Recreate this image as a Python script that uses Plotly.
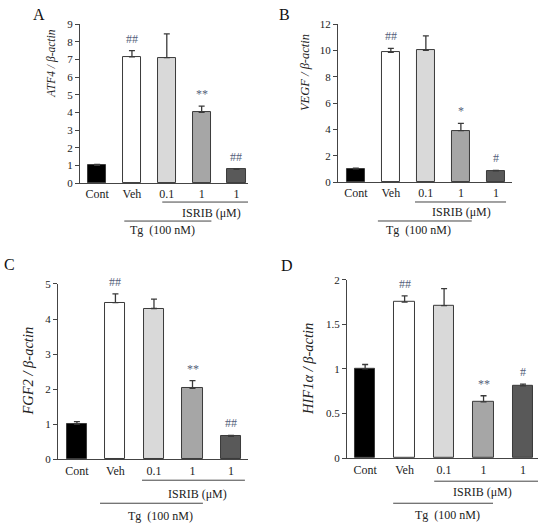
import plotly.graph_objects as go

# ----------------------------------------------------
# Data
# ----------------------------------------------------

groups = ["Cont", "Veh", "0.1", "1", "1"]
bar_colors = ["#000000", "#ffffff", "#d9d9d9", "#a6a6a6", "#595959"]

atf4_mean = [1.0, 7.15, 7.1, 4.0, 0.78]
atf4_err = [0.05, 0.35, 1.35, 0.35, 0.03]
atf4_sig = ["", "##", "", "**", "##"]

vegf_mean = [1.0, 9.85, 10.0, 3.9, 0.85]
vegf_err = [0.05, 0.3, 1.1, 0.55, 0.03]
vegf_sig = ["", "##", "", "*", "#"]

fgf2_mean = [1.0, 4.47, 4.3, 2.02, 0.65]
fgf2_err = [0.07, 0.25, 0.27, 0.22, 0.03]
fgf2_sig = ["", "##", "", "**", "##"]

hif1a_mean = [1.0, 1.75, 1.71, 0.63, 0.81]
hif1a_err = [0.05, 0.07, 0.19, 0.07, 0.02]
hif1a_sig = ["", "##", "", "**", "#"]

FONT = "Liberation Serif"
TXT = "#222222"

panels = [
    dict(letter="A", title="<i>ATF4 / β-actin</i>", mean=atf4_mean, err=atf4_err, sig=atf4_sig,
         yrange=[0, 9], dtick=1, xdom=[0.1455, 0.4509], ydom=[0.650, 0.954], xrange=[-0.49, 4.33],
         letter_xy=(0.071, 0.973), hpx=159, title_pos=(52 / 550, 0.75, 11.5),
         isrib=(1.87, 4.46, 3.28), tg=(0.78, 3.28, 1.87), vpx=(19, 30, 38, 47)),
    dict(letter="B", title="<i>VEGF / β-actin</i>", mean=vegf_mean, err=vegf_err, sig=vegf_sig,
         yrange=[0, 12], dtick=2, xdom=[0.6145, 0.9309], ydom=[0.652, 0.954], xrange=[-0.51, 4.46],
         letter_xy=(0.518, 0.973), hpx=158, title_pos=(305 / 550, 0.69, 12.5),
         isrib=(1.69, 4.29, 3.03), tg=(0.63, 3.31, 1.8), vpx=(20, 30, 39, 48)),
    dict(letter="C", title="<i>FGF2 / β-actin</i>", mean=fgf2_mean, err=fgf2_err, sig=fgf2_sig,
         yrange=[0, 5], dtick=1, xdom=[0.1055, 0.4509], ydom=[0.122, 0.457], xrange=[-0.49, 4.44],
         letter_xy=(0.018, 0.495), hpx=175, title_pos=(28 / 550, 0.5, 14.5),
         isrib=(1.69, 4.36, 3.12), tg=(0.6, 3.27, 2.18), vpx=(21, 35, 44, 57)),
    dict(letter="D", title="<i>HIF1α / β-actin</i>", mean=hif1a_mean, err=hif1a_err, sig=hif1a_sig,
         yrange=[0, 2], dtick=0.5, xdom=[0.6309, 0.9782], ydom=[0.124, 0.465], xrange=[-0.46, 4.38],
         letter_xy=(0.522, 0.493), hpx=178, title_pos=(308 / 550, 0.5, 14.5),
         isrib=(1.75, 4.38, 2.97), tg=(0.71, 3.24, 2.09), vpx=(23, 34, 45, 57)),
]

fig = go.Figure()
layout = {}
annotations = []
shapes = []

for i, p in enumerate(panels, start=1):
    sx = "" if i == 1 else str(i)
    xa, ya = "x" + sx, "y" + sx
    xs = list(range(len(groups)))

    # ----------------------------------------------------
    # Bars with one-sided error bars
    # ----------------------------------------------------
    fig.add_trace(
        go.Bar(
            x=xs,
            y=p["mean"],
            width=0.52,
            marker=dict(color=bar_colors, line=dict(color="#3a3a3a", width=1)),
            error_y=dict(
                type="data",
                symmetric=False,
                array=p["err"],
                arrayminus=[0] * len(groups),
                color="#3a3a3a",
                thickness=1.3,
                width=3,
            ),
            xaxis=xa,
            yaxis=ya,
            showlegend=False,
        )
    )

    layout["xaxis" + sx] = dict(
        domain=p["xdom"],
        anchor=ya,
        range=p["xrange"],
        automargin=False,
        tickmode="array",
        tickvals=xs,
        ticktext=groups,
        ticks="",
        showline=True,
        linecolor="#444444",
        linewidth=1,
        showgrid=False,
        zeroline=False,
        fixedrange=True,
        tickfont=dict(family=FONT, size=12, color=TXT),
    )
    layout["yaxis" + sx] = dict(
        domain=p["ydom"],
        anchor=xa,
        range=p["yrange"],
        automargin=False,
        dtick=p["dtick"],
        ticks="outside",
        ticklen=4,
        tickcolor="#444444",
        showline=True,
        linecolor="#444444",
        linewidth=1,
        showgrid=False,
        zeroline=False,
        tickfont=dict(family=FONT, size=11, color=TXT),
    )

    # y-axis label (the original sits off-centre in the top panels)
    tx, ty, tsize = p["title_pos"]
    annotations.append(dict(
        text=p["title"], xref="paper", yref=ya + " domain", x=tx, y=ty,
        textangle=-90, xanchor="center", yanchor="middle", showarrow=False,
        font=dict(family=FONT, size=tsize, color=TXT),
    ))

    # panel letter
    annotations.append(dict(
        text=p["letter"], xref="paper", yref="paper",
        x=p["letter_xy"][0], y=p["letter_xy"][1],
        xanchor="center", yanchor="middle",
        showarrow=False, font=dict(family=FONT, size=16, color="#111111"),
    ))

    # significance marks above the error bars
    for xi, (m, e, s) in enumerate(zip(p["mean"], p["err"], p["sig"])):
        if s:
            annotations.append(dict(
                text=s, x=xi, y=m + e, xref=xa, yref=ya,
                xanchor="center", yanchor="bottom", yshift=3, showarrow=False,
                font=dict(family=FONT, size=12, color="#55607a"),
            ))

    # ISRIB / Tg treatment brackets under the axis
    h = p["hpx"]
    l1, t1, l2, t2 = [-v / h for v in p["vpx"]]
    dref = ya + " domain"
    shapes.append(dict(type="line", xref=xa, yref=dref,
                       x0=p["isrib"][0], x1=p["isrib"][1], y0=l1, y1=l1,
                       line=dict(color="#444444", width=1)))
    shapes.append(dict(type="line", xref=xa, yref=dref,
                       x0=p["tg"][0], x1=p["tg"][1], y0=l2, y1=l2,
                       line=dict(color="#444444", width=1)))
    annotations.append(dict(text="ISRIB (μM)", xref=xa, yref=dref,
                            x=p["isrib"][2], y=t1, xanchor="center", yanchor="middle",
                            showarrow=False, font=dict(family=FONT, size=12, color=TXT)))
    annotations.append(dict(text="Tg  (100 nM)", xref=xa, yref=dref,
                            x=p["tg"][2], y=t2, xanchor="center", yanchor="middle",
                            showarrow=False, font=dict(family=FONT, size=12, color=TXT)))

fig.update_layout(
    **layout,
    annotations=annotations,
    shapes=shapes,
    width=550,
    height=523,
    margin=dict(l=0, r=0, t=0, b=0),
    paper_bgcolor="white",
    plot_bgcolor="white",
    bargap=0,
)

# page has a default 8px body margin; drop it so the figure fills the window
fig.write_html(
    "out.html",
    config={"displayModeBar": False},
    post_script="document.body.style.margin='0';",
)
